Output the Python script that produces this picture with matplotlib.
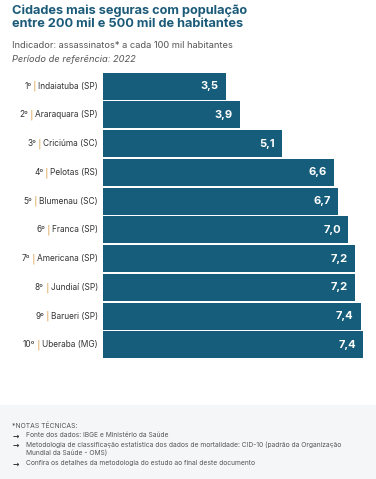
import numpy as np
import matplotlib
matplotlib.use("Agg")
import matplotlib.pyplot as plt
from matplotlib.offsetbox import TextArea, HPacker, AnnotationBbox
from matplotlib.patches import Rectangle

plt.rcParams['font.family'] = ['Inter', 'DejaVu Sans']

# data
ranks = ['1º', '2º', '3º', '4º', '5º', '6º', '7º', '8º', '9º', '10º']
cities = ['Indaiatuba (SP)', 'Araraquara (SP)', 'Criciúma (SC)', 'Pelotas (RS)',
          'Blumenau (SC)', 'Franca (SP)', 'Americana (SP)', 'Jundiaí (SP)',
          'Barueri (SP)', 'Uberaba (MG)']
rates = [3.5, 3.9, 5.1, 6.6, 6.7, 7.0, 7.2, 7.2, 7.36, 7.42]
rate_labels = ['3,5', '3,9', '5,1', '6,6', '6,7', '7,0', '7,2', '7,2', '7,4', '7,4']

title = 'Cidades mais seguras com população\nentre 200 mil e 500 mil de habitantes'
subtitle = 'Indicador: assassinatos* a cada 100 mil habitantes'
period = 'Período de referência: 2022'
notes_head = '*NOTAS TÉCNICAS:'
notes = ['Fonte dos dados: IBGE e Ministério da Saúde',
         'Metodologia de classificação estatística dos dados de mortalidade: CID-10 (padrão da Organização\nMundial da Saúde - OMS)',
         'Confira os detalhes da metodologia do estudo ao final deste documento']

W, H = 376, 479
bar_color = '#155d7a'
title_color = '#1b5b79'
text_gray = '#555555'
sep_color = '#e0a85a'

fig = plt.figure(figsize=(W / 100, H / 100), dpi=100)
fig.patch.set_facecolor('white')

def fx(px):
    return px / W

def fy(py):
    return 1 - py / H

# axes placed in pixel coords
x0, x1 = 103, 376
y_top, y_bot = 72.7, 360
ax = fig.add_axes([fx(x0), fy(y_bot), fx(x1 - x0), (y_bot - y_top) / H])
px_per_unit = 35.0
ax.set_xlim(0, (x1 - x0) / px_per_unit)
n = len(rates)
ax.set_ylim(n - 0.5 + 0.03, -0.5 + 0.03)
ypos = np.arange(n)
ax.barh(ypos, rates, height=0.94, color=bar_color)
ax.axis('off')

for i, (v, lab) in enumerate(zip(rates, rate_labels)):
    ax.annotate(lab, (v, i), xytext=(-5, 0), textcoords='offset points',
                ha='right', va='center', color='white', fontsize=8,
                fontweight='bold')

# category labels: rank | city
label_x = -5 / px_per_unit
for i, (r, c) in enumerate(zip(ranks, cities)):
    parts = [TextArea(r, textprops=dict(color='#333333', fontsize=6.0)),
             TextArea('|', textprops=dict(color=sep_color, fontsize=8,
                                          family='DejaVu Sans')),
             TextArea(c, textprops=dict(color='#333333', fontsize=6.0))]
    box = HPacker(children=parts, align='center', pad=0, sep=1.2)
    ab = AnnotationBbox(box, (label_x, i), xycoords='data',
                        box_alignment=(1, 0.5), frameon=False, pad=0,
                        annotation_clip=False)
    ax.add_artist(ab)

# header
fig.text(fx(12), fy(27.3), title, ha='left', va='baseline', fontsize=9.2,
         fontweight='bold', color=title_color, linespacing=1.15)
fig.text(fx(12), fy(45), subtitle, ha='left', va='center', fontsize=6.7,
         color=text_gray)
fig.text(fx(12), fy(59), period, ha='left', va='center', fontsize=6.7,
         color=text_gray, style='italic')

# notes box
fig.patches.append(Rectangle((0, 0), 1, fy(405), transform=fig.transFigure,
                             facecolor='#f5f6f8', edgecolor='none', zorder=0))
fig.text(fx(12), fy(426), notes_head, ha='left', va='center', fontsize=4.9,
         color=text_gray)
note_y = [436, 445, 464]
for y, t in zip(note_y, notes):
    fig.text(fx(13), fy(y), '→', ha='left', va='center', fontsize=5.5,
             color='#333333', fontweight='bold', family='DejaVu Sans')
    fig.text(fx(26), fy(y - 4), t, ha='left', va='top', fontsize=4.8,
             color=text_gray, linespacing=1.35)

fig.savefig('out.png', dpi=100)
